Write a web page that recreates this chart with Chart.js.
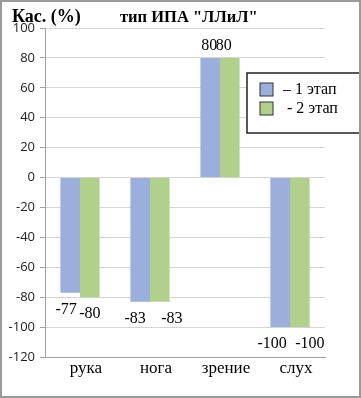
<!DOCTYPE html>
<html>
<head>
<meta charset="utf-8">
<script src="https://cdn.jsdelivr.net/npm/chart.js@4"></script>
<style>
  body { margin: 0; background: #fff; }
  #wrap { width: 361px; height: 398px; box-sizing: border-box; border: 2px solid #9a9a9a; position: relative; }
  canvas { display: block; }
</style>
</head>
<body>
<div id="wrap"><canvas id="chartContainer" width="357" height="394"></canvas></div>
<script>
const categories = ['рука', 'нога', 'зрение', 'слух'];
const stage1 = [-77, -83, 80, -100];
const stage2 = [-80, -83, 80, -100];
const seriesNames = ['– 1 этап', '- 2 этап'];
const yTicks = [100, 80, 60, 40, 20, 0, -20, -40, -60, -80, -100, -120];

const serif = '"Liberation Serif", "DejaVu Serif", serif';
const sans = '"Open Sans", "DejaVu Sans", sans-serif';

// small horizontal nudges so neighbouring value labels do not collide
const labelNudge = [[-4, -5, -1, -8], [0, 12, -6, 10]];

// values above/below each bar
const valueLabels = {
  id: 'valueLabels',
  afterDatasetsDraw(chart) {
    const ctx = chart.ctx;
    ctx.save();
    ctx.font = '16px ' + serif;
    ctx.fillStyle = '#000';
    ctx.textAlign = 'center';
    ctx.textBaseline = 'middle';
    chart.data.datasets.forEach((ds, i) => {
      chart.getDatasetMeta(i).data.forEach((bar, j) => {
        const v = ds.data[j];
        const y = v < 0 ? bar.y + 17 : bar.y - 12;
        ctx.fillText(String(v), bar.x + labelNudge[i][j], y);
      });
    });
    ctx.restore();
  }
};

// titles and boxed legend
const extras = {
  id: 'extras',
  afterDraw(chart) {
    const ctx = chart.ctx;
    ctx.save();
    ctx.fillStyle = '#000';
    ctx.textBaseline = 'alphabetic';
    ctx.font = 'bold 18px ' + serif;
    ctx.fillText('Кас. (%)', 10, 20);
    ctx.font = 'bold 16.5px ' + serif;
    ctx.fillText('тип ИПА "ЛЛиЛ"', 118, 20);

    // legend box
    const bx = 245, by = 71, bw = 114, bh = 60;
    ctx.fillStyle = '#fff';
    ctx.fillRect(bx, by, bw, bh);
    ctx.strokeStyle = '#222';
    ctx.lineWidth = 1.5;
    ctx.strokeRect(bx, by, bw, bh);
    chart.data.datasets.forEach((ds, i) => {
      const y = by + 10 + i * 19;
      ctx.fillStyle = ds.backgroundColor;
      ctx.fillRect(bx + 13, y, 13, 13);
      ctx.strokeStyle = '#333';
      ctx.lineWidth = 1;
      ctx.strokeRect(bx + 13, y, 13, 13);
      ctx.fillStyle = '#000';
      ctx.font = '16px ' + serif;
      ctx.textBaseline = 'middle';
      ctx.fillText(ds.label, bx + (i === 0 ? 36 : 40), y + 7);
    });
    ctx.restore();
  }
};

const ctx = document.getElementById('chartContainer').getContext('2d');
new Chart(ctx, {
  type: 'bar',
  data: {
    labels: categories,
    datasets: [
      { label: seriesNames[0], data: stage1, backgroundColor: '#9caedc' },
      { label: seriesNames[1], data: stage2, backgroundColor: '#b0d08c' }
    ]
  },
  options: {
    responsive: false,
    animation: false,
    layout: { padding: { top: 26, right: 34, left: 0, bottom: 0 } },
    plugins: {
      legend: { display: false },
      tooltip: { enabled: false }
    },
    datasets: { bar: { categoryPercentage: 0.56, barPercentage: 1.0 } },
    scales: {
      x: {
        grid: { display: false, drawTicks: false },
        border: { display: true, color: '#a0a0a0' },
        ticks: { color: '#000', font: { family: serif, size: 17 }, padding: 1, labelOffset: 6 },
        afterFit(scale) { scale.height = 39; }
      },
      y: {
        min: -120,
        max: 100,
        afterBuildTicks(scale) { scale.ticks = yTicks.map(v => ({ value: v })); },
        afterFit(scale) { scale.width = 43; },
        grid: { color: '#d4d4d4', tickLength: 5, tickColor: '#a0a0a0' },
        border: { display: true, color: '#a0a0a0' },
        ticks: { color: '#222', font: { family: sans, size: 13 }, padding: 5 }
      }
    }
  },
  plugins: [valueLabels, extras]
});
</script>
</body>
</html>
